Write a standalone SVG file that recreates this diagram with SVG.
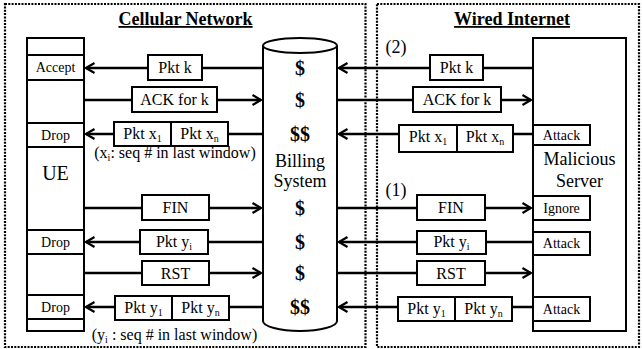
<svg xmlns="http://www.w3.org/2000/svg" width="642" height="349" viewBox="0 0 642 349">
<style>
.t{font-size:16px;text-anchor:middle}
.s{font-size:14px;text-anchor:middle}
.b{font-size:18px;text-anchor:middle}
.d{font-size:20px;font-weight:bold;text-anchor:middle}
.h{font-size:18px;font-weight:bold;text-anchor:middle;text-decoration:underline}
.box{fill:#fff;stroke:#000;stroke-width:2}
.ln{stroke:#000;stroke-width:2.5;fill:none}
.dot{fill:none;stroke:#000;stroke-width:2.2;stroke-dasharray:2 1.3}
.sub{font-size:10px}
</style>
<defs>
<marker id="ar" viewBox="0 0 12 12" markerWidth="12" markerHeight="12" refX="10.5" refY="6" orient="auto" markerUnits="userSpaceOnUse">
<path d="M2,1 L10.5,6 L2,11" fill="none" stroke="#000" stroke-width="2.2"/>
</marker>
</defs>
<rect width="642" height="349" fill="#fff"/>
<g font-family="Liberation Serif, Times New Roman, serif" fill="#000">
<g id="regions">
<rect class="dot" x="5" y="4" width="360.5" height="343"/>
<rect class="dot" x="377" y="4" width="262" height="343"/>
<text class="h" x="185.5" y="25">Cellular Network</text>
<text class="h" x="512" y="25">Wired Internet</text>
</g>
<g id="connectors">
<line class="ln" x1="263" y1="68" x2="86" y2="68" marker-end="url(#ar)"/>
<line class="ln" x1="84" y1="100" x2="261" y2="100" marker-end="url(#ar)"/>
<line class="ln" x1="263" y1="134" x2="86" y2="134" marker-end="url(#ar)"/>
<line class="ln" x1="84" y1="208" x2="261" y2="208" marker-end="url(#ar)"/>
<line class="ln" x1="263" y1="242" x2="86" y2="242" marker-end="url(#ar)"/>
<line class="ln" x1="84" y1="273" x2="261" y2="273" marker-end="url(#ar)"/>
<line class="ln" x1="263" y1="307" x2="86" y2="307" marker-end="url(#ar)"/>
<line class="ln" x1="533" y1="68" x2="339" y2="68" marker-end="url(#ar)"/>
<line class="ln" x1="337" y1="100" x2="531" y2="100" marker-end="url(#ar)"/>
<line class="ln" x1="533" y1="134" x2="339" y2="134" marker-end="url(#ar)"/>
<line class="ln" x1="337" y1="208" x2="531" y2="208" marker-end="url(#ar)"/>
<line class="ln" x1="533" y1="242" x2="339" y2="242" marker-end="url(#ar)"/>
<line class="ln" x1="337" y1="273" x2="531" y2="273" marker-end="url(#ar)"/>
<line class="ln" x1="533" y1="307" x2="339" y2="307" marker-end="url(#ar)"/>
</g>
<g id="labels">
<rect class="box" x="148" y="55" width="54" height="25"/><text class="t" x="175" y="73">Pkt k</text>
<rect class="box" x="132" y="87" width="85" height="25"/><text class="t" x="174.5" y="105">ACK for k</text>
<rect class="box" x="114" y="122" width="114" height="24"/><line class="box" x1="171" y1="122" x2="171" y2="146"/>
<text class="t" x="142.5" y="139">Pkt x<tspan class="sub" dy="3">1</tspan></text>
<text class="t" x="199.5" y="139">Pkt x<tspan class="sub" dy="3">n</tspan></text>
<text class="t" x="175" y="158">(x<tspan class="sub" dy="3">i</tspan><tspan dy="-3">: seq # in last window)</tspan></text>
<rect class="box" x="142" y="195" width="67" height="25"/><text class="t" x="175.5" y="213">FIN</text>
<rect class="box" x="140" y="230" width="68" height="24"/><text class="t" x="174" y="247">Pkt y<tspan class="sub" dy="3">i</tspan></text>
<rect class="box" x="142" y="261" width="67" height="24"/><text class="t" x="175.5" y="279">RST</text>
<rect class="box" x="115" y="296" width="114" height="24"/><line class="box" x1="172" y1="296" x2="172" y2="320"/>
<text class="t" x="143.5" y="313">Pkt y<tspan class="sub" dy="3">1</tspan></text>
<text class="t" x="200.5" y="313">Pkt y<tspan class="sub" dy="3">n</tspan></text>
<text class="t" x="174.5" y="340">(y<tspan class="sub" dy="3">i</tspan><tspan dy="-3"> : seq # in last window)</tspan></text>

<rect class="box" x="430" y="55" width="53" height="25"/><text class="t" x="456.5" y="73">Pkt k</text>
<rect class="box" x="413" y="87" width="88" height="25"/><text class="t" x="457" y="105">ACK for k</text>
<rect class="box" x="399" y="125" width="114" height="27"/><line class="box" x1="457" y1="125" x2="457" y2="152"/>
<text class="t" x="428" y="142">Pkt x<tspan class="sub" dy="3">1</tspan></text>
<text class="t" x="485" y="142">Pkt x<tspan class="sub" dy="3">n</tspan></text>
<rect class="box" x="417" y="195" width="68" height="25"/><text class="t" x="451" y="213">FIN</text>
<rect class="box" x="417" y="231" width="69" height="23"/><text class="t" x="451.5" y="247">Pkt y<tspan class="sub" dy="3">i</tspan></text>
<rect class="box" x="417" y="261" width="68" height="24"/><text class="t" x="451" y="279">RST</text>
<rect class="box" x="398" y="297" width="114" height="24"/><line class="box" x1="455" y1="297" x2="455" y2="321"/>
<text class="t" x="426.5" y="314">Pkt y<tspan class="sub" dy="3">1</tspan></text>
<text class="t" x="483.5" y="314">Pkt y<tspan class="sub" dy="3">n</tspan></text>
<text class="b" x="396" y="53">(2)</text>
<text class="b" x="396" y="196">(1)</text>
</g>
<g id="ue">
<rect class="box" x="27" y="38" width="57" height="293"/>
<line class="box" x1="27" y1="55" x2="84" y2="55"/>
<rect class="box" x="27" y="55" width="57" height="25"/><text class="s" x="55.5" y="72">Accept</text>
<rect class="box" x="27" y="123" width="57" height="24"/><text class="s" x="55.5" y="140">Drop</text>
<text x="55.5" y="180" font-size="20" text-anchor="middle">UE</text>
<rect class="box" x="27" y="230" width="57" height="24"/><text class="s" x="55.5" y="247">Drop</text>
<rect class="box" x="27" y="295" width="57" height="24"/><text class="s" x="55.5" y="312">Drop</text>
</g>
<g id="billing">
<path class="box" d="M263,45.5 L263,321 A37,10 0 0 0 337,321 L337,45.5"/>
<ellipse class="box" cx="300" cy="45.5" rx="37" ry="7.5"/>
<text class="d" x="300" y="75">$</text>
<text class="d" x="300" y="107">$</text>
<text class="d" x="300" y="141">$$</text>
<text class="b" x="300" y="167">Billing</text>
<text class="b" x="300" y="187">System</text>
<text class="d" x="300" y="215">$</text>
<text class="d" x="300" y="249">$</text>
<text class="d" x="300" y="280">$</text>
<text class="d" x="300" y="314">$$</text>
</g>
<g id="server">
<rect class="box" x="533" y="38" width="93" height="293"/>
<rect class="box" x="533" y="125" width="57" height="20"/><text class="s" x="561.5" y="140">Attack</text>
<text class="b" x="579.5" y="165">Malicious</text>
<text class="b" x="579.5" y="187">Server</text>
<rect class="box" x="533" y="196" width="57" height="24"/><text class="s" x="561.5" y="213">Ignore</text>
<rect class="box" x="533" y="232" width="57" height="23"/><text class="s" x="561.5" y="248">Attack</text>
<rect class="box" x="533" y="297" width="57" height="24"/><text class="s" x="561.5" y="314">Attack</text>
</g>
</g>
</svg>
